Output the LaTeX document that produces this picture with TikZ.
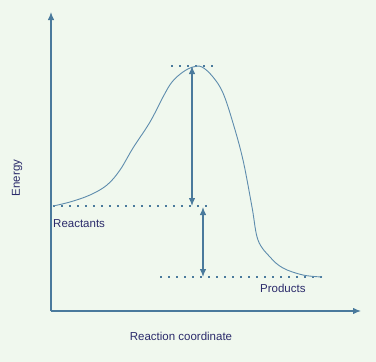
\documentclass[tikz,border=0pt]{standalone}
\usepackage{fontspec}
\setmainfont{Liberation Sans}
\usetikzlibrary{arrows.meta}
\definecolor{bgcol}{HTML}{F0F8EE}
\definecolor{linecol}{HTML}{4A7A9C}
\definecolor{curvecol}{HTML}{5E8CAD}
\definecolor{textcol}{HTML}{2B2B6B}
\begin{document}
\begin{tikzpicture}[x=1pt,y=-1pt,
    axis/.style={line width=1.2pt, linecol, -{Latex[length=8pt,width=6.5pt]}},
    level/.style={line width=2pt, linecol, dash pattern=on 2pt off 6pt},
    gap/.style={line width=1.2pt, linecol, {Latex[length=8pt,width=6.5pt]}-{Latex[length=8pt,width=6.5pt]}},
    lbl/.style={textcol, font=\fontsize{11.5}{14}\selectfont, inner sep=0pt}]
    \fill[bgcol] (0,0) rectangle (376,362);
    \useasboundingbox (0,0) rectangle (376,362);

    % axes
    \coordinate (origin) at (51,311);
    \coordinate (ytop) at (51,12);
    \coordinate (xend) at (361,311);
    \draw[axis] (origin) -- (ytop);
    \draw[axis] (origin) -- (xend);

    % energy levels
    \coordinate (reac) at (53,206);
    \coordinate (reacend) at (210,206);
    \coordinate (peakl) at (171,66);
    \coordinate (peakr) at (214,66);
    \coordinate (prodl) at (160,277);
    \coordinate (prod) at (322,277);
    \draw[level] (reac) -- (reacend);
    \draw[level] (peakl) -- (peakr);
    \draw[level] (prodl) -- (prod);

    % reaction path
    \draw[curvecol, line width=0.9pt] plot[smooth, tension=0.6] coordinates {
        (53,206) (70,202) (90,195) (107,185) (120,170) (133,148) (150,122)
        (163,97) (172,82) (183,72) (193,67) (202,67) (213,77) (223,93)
        (233,123) (243,160) (252,207) (258,240) (270,257) (283,268)
        (303,275) (322,277)};

    % differences
    \coordinate (ea1) at (192,66);
    \coordinate (ea2) at (192,206);
    \coordinate (dh1) at (203,207);
    \coordinate (dh2) at (203,277);
    \draw[gap] (ea2) -- (ea1);
    \draw[gap] (dh1) -- (dh2);

    % labels
    \node[lbl, anchor=north west] (reaclbl) at (53,219) {Reactants};
    \node[lbl, anchor=north west] (prodlbl) at (260,284) {Products};
    \node[lbl] (xlbl) at (181,336) {Reaction coordinate};
    \node[lbl, rotate=90] (ylbl) at (17,178) {Energy};
\end{tikzpicture}
\end{document}
